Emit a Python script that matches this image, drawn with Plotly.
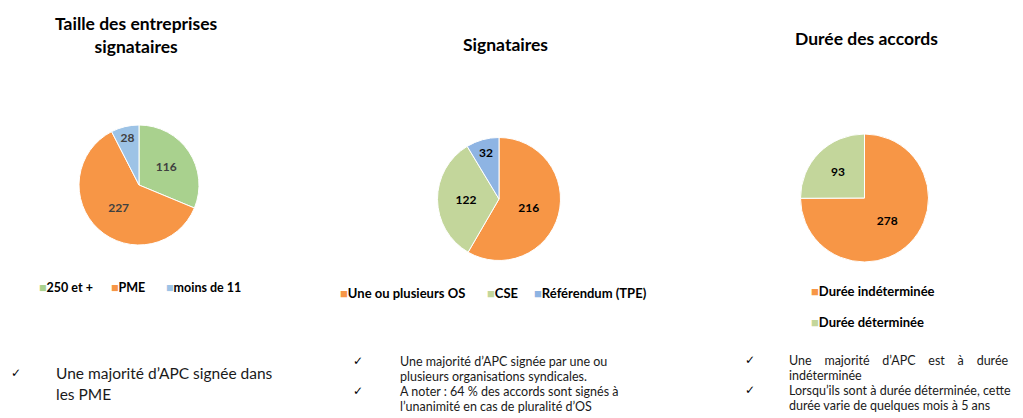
import plotly.graph_objects as go

W, H = 1023, 418
FONT = "Lato"

# ---------------- data ----------------
titles = ["Taille des entreprises<br>signataires", "Signataires", "Durée des accords"]

taille_labels = ["250 et +", "PME", "moins de 11"]
taille_values = [116, 227, 28]
taille_colors = ["#A9D18E", "#F79646", "#9DC3E6"]

sign_labels = ["Une ou plusieurs OS", "CSE", "Référendum (TPE)"]
sign_values = [216, 122, 32]
sign_colors = ["#F79646", "#C3D69B", "#8EB4E3"]

duree_labels = ["Durée indéterminée", "Durée déterminée"]
duree_values = [278, 93]
duree_colors = ["#F79646", "#C3D69B"]

NB = "\u00a0\u00a0\u00a0 "
notes1 = [["Une majorité d’APC signée dans", "les PME"]]
notes2 = [["Une majorité d’APC signée par une ou", "plusieurs organisations syndicales."],
          ["A noter : 64 % des accords sont signés à", "l’unanimité en cas de pluralité d’OS"]]
notes3 = [[NB.join(["Une", "majorité", "d’APC", "est", "à", "durée"]), "indéterminée"],
          ["Lorsqu’ils sont à durée déterminée, cette", "durée varie de quelques mois à 5 ans"]]


def px(x):
    return x / W


def py(y):
    return 1 - y / H


def dom(cx, cy, r):
    return dict(x=[px(cx - r), px(cx + r)], y=[py(cy + r), py(cy - r)])


fig = go.Figure()

pies = [
    (taille_labels, taille_values, taille_colors, (139, 185, 60), "#404040"),
    (sign_labels, sign_values, sign_colors, (499, 199, 61.5), "#000000"),
    (duree_labels, duree_values, duree_colors, (864.5, 198, 64), "#000000"),
]
for labels, values, colors, (cx, cy, r), tc in pies:
    fig.add_trace(go.Pie(
        labels=labels, values=values, sort=False, direction="clockwise", rotation=0,
        marker=dict(colors=colors, line=dict(color="white", width=1)),
        textinfo="value", textposition="inside", insidetextorientation="horizontal",
        textfont=dict(family=FONT, size=12, color=tc, weight="bold"),
        domain=dom(cx, cy, r), showlegend=False, hoverinfo="label+value",
    ))

ann = []
# titles
title_pos = [(136, 35), (505, 44), (866, 38)]
for t, (x, y) in zip(titles, title_pos):
    ann.append(dict(text="<b>" + t + "</b>", x=px(x), y=py(y), xref="paper", yref="paper",
                    xanchor="center", yanchor="middle", showarrow=False,
                    font=dict(family=FONT, size=17.5, color="#000000")))

# legends
def legend_entry(label, color, x, y, size):
    ann.append(dict(text=f"<span style='color:{color}'>■</span><b>{label}</b>",
                    x=px(x), y=py(y), xref="paper", yref="paper", xanchor="left",
                    yanchor="middle", showarrow=False,
                    font=dict(family=FONT, size=size, color="#000000")))

for lab, col, x in zip(taille_labels, taille_colors, [37, 109, 164]):
    legend_entry(lab, col, x, 287, 12.5)
for lab, col, x in zip(sign_labels, sign_colors, [338, 485, 532]):
    legend_entry(lab, col, x, 293, 13)
for lab, col, y in zip(duree_labels, duree_colors, [291, 322]):
    legend_entry(lab, col, 809, y, 13)

# notes
def notes(blocks, check_x, text_x, ys, size):
    i = 0
    for block in blocks:
        ann.append(dict(text="✓", x=px(check_x), y=py(ys[i]), xref="paper", yref="paper",
                        xanchor="center", yanchor="middle", showarrow=False,
                        font=dict(family="DejaVu Sans", size=12, color="#000000")))
        for line in block:
            ann.append(dict(text=line, x=px(text_x), y=py(ys[i]), xref="paper", yref="paper",
                            xanchor="left", yanchor="middle", showarrow=False,
                            font=dict(family=FONT, size=size, color="#1a1a1a")))
            i += 1

notes(notes1, 16, 54, [373, 394], 15.5)
notes(notes2, 358, 398, [361, 376, 391, 406], 12.5)
notes(notes3, 750, 787, [360, 375, 390, 405], 12.5)

fig.update_layout(width=W, height=H, margin=dict(l=0, r=0, t=0, b=0),
                  paper_bgcolor="white", plot_bgcolor="white", annotations=ann)
fig.write_html("out.html", config={"displayModeBar": False},
               post_script="document.body.style.margin='0';")
